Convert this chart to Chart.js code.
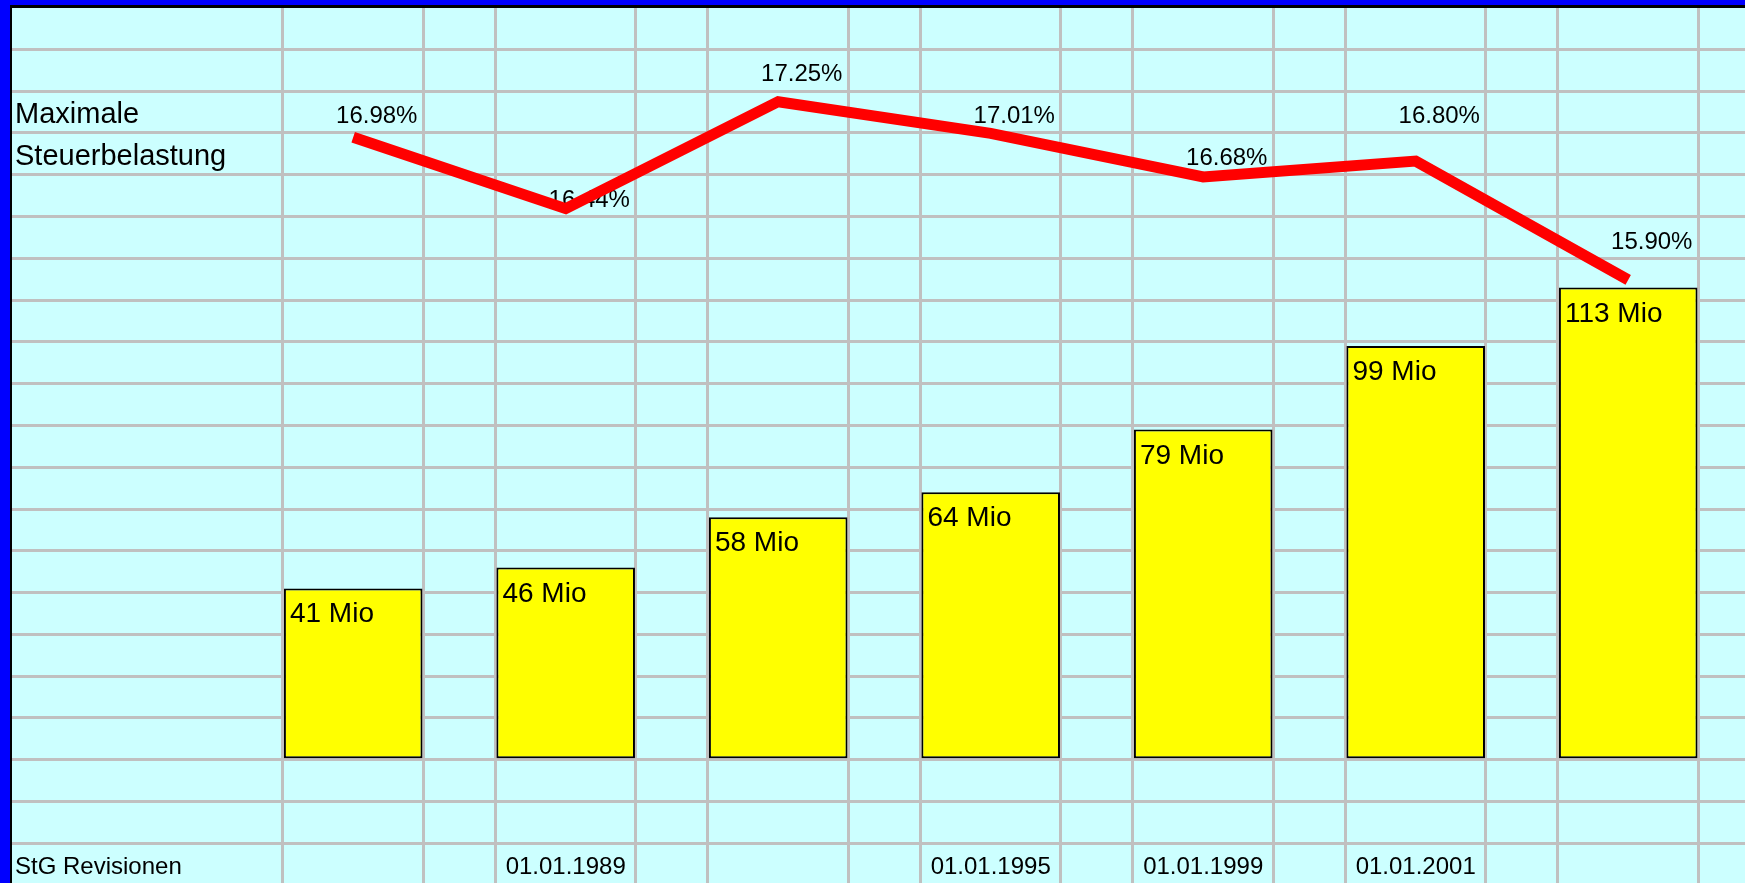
<!DOCTYPE html>
<html>
<head>
<meta charset="utf-8">
<title>StG Revisionen</title>
<script src="https://cdn.jsdelivr.net/npm/chart.js@4.4.1/dist/chart.umd.min.js"></script>
<style>
    html, body {
        margin: 0;
        padding: 0;
        background: #0000ff;
        overflow: hidden;
    }
    .sheet {
        position: absolute;
        left: 10px;
        top: 5px;
        width: 1733px;
        height: 875px;
        border-left: 2px solid #000000;
        border-top: 3px solid #000000;
        background: #ccffff;
    }
    canvas {
        display: block;
    }
</style>
</head>
<body>
<div class="sheet">
    <canvas id="chart" width="1733" height="875"></canvas>
</div>
<script>
const revisionDates = ['', '01.01.1989', '', '01.01.1995', '01.01.1999', '01.01.2001', ''];
const revenueMio = [41, 46, 58, 64, 79, 99, 113];
const maxTaxRate = [16.98, 16.44, 17.25, 17.01, 16.68, 16.80, 15.90];
const rateTitle = ['Maximale', 'Steuerbelastung'];
const revisionTitle = 'StG Revisionen';

const FONT = "'Liberation Sans', Arial, Helvetica, sans-serif";
const GRID = '#c0c0c0';
const WIDE_CELL = 0.661;   // share of the wide sheet column in one period
const ROW_MIO = 10;        // one sheet row = 10 Mio on the bar axis

// x range: sheet columns, label column on the left
const X_MIN = -1.6056;
const X_MAX = 6.5496;

function drawText(ctx, text, x, y, size, align) {
    ctx.font = `${size}px ${FONT}`;
    ctx.textAlign = align;
    ctx.textBaseline = 'alphabetic';
    ctx.fillStyle = '#000000';
    ctx.fillText(text, x, y);
}

// top pixel of the sheet row that contains the given pixel
function rowTop(yScale, pixel) {
    const value = yScale.getValueForPixel(pixel);
    return yScale.getPixelForValue(Math.floor(value / ROW_MIO) * ROW_MIO + ROW_MIO);
}

function zeroHeight(scale) {
    scale.height = 0;
}

function zeroWidth(scale) {
    scale.width = 0;
}

const cellText = {
    id: 'cellText',
    beforeDatasetsDraw(chart) {
        const { ctx, scales, chartArea } = chart;
        const line = chart.getDatasetMeta(1);
        const rowPx = scales.y.getPixelForValue(0) - scales.y.getPixelForValue(ROW_MIO);
        ctx.save();

        line.data.forEach((point, i) => {
            const top = rowTop(scales.y, point.y - 32);
            const right = scales.xGrid.getPixelForValue(i + WIDE_CELL / 2) - 6;
            drawText(ctx, maxTaxRate[i].toFixed(2) + '%', right, top + 32, 24, 'right');
        });

        const firstTop = rowTop(scales.y, line.data[0].y - 32);
        drawText(ctx, rateTitle[0], chartArea.left + 3, firstTop + 32, 29, 'left');
        drawText(ctx, rateTitle[1], chartArea.left + 3, firstTop + rowPx + 32, 29, 'left');

        const lastTop = rowTop(scales.y, chartArea.bottom - 4);
        drawText(ctx, revisionTitle, chartArea.left + 3, lastTop + 31, 24, 'left');
        revisionDates.forEach((label, i) => {
            if (label) {
                drawText(ctx, label, scales.x.getPixelForValue(i), lastTop + 31, 24, 'center');
            }
        });
        ctx.restore();
    },
    afterDatasetsDraw(chart) {
        const { ctx } = chart;
        const bars = chart.getDatasetMeta(0);
        ctx.save();
        bars.data.forEach((bar, i) => {
            drawText(ctx, `${revenueMio[i]} Mio`, bar.x - bar.width / 2 + 6, bar.y + 34, 28, 'left');
        });
        ctx.restore();
    },
};

new Chart(document.getElementById('chart'), {
    type: 'bar',
    data: {
        datasets: [
            {
                type: 'bar',
                label: 'Mio',
                data: revenueMio.map((v, i) => ({ x: i, y: v })),
                xAxisID: 'x',
                yAxisID: 'y',
                backgroundColor: '#ffff00',
                borderColor: '#000000',
                borderWidth: 2,
                borderSkipped: false,
                barPercentage: 0.652,
                categoryPercentage: 1,
                order: 1,
            },
            {
                type: 'line',
                label: 'Maximale Steuerbelastung',
                data: maxTaxRate.map((v, i) => ({ x: i, y: v })),
                xAxisID: 'x',
                yAxisID: 'y2',
                borderColor: '#ff0000',
                borderWidth: 11,
                borderJoinStyle: 'miter',
                borderCapStyle: 'butt',
                pointRadius: 0,
                tension: 0,
                order: 0,
            },
        ],
    },
    options: {
        responsive: false,
        animation: false,
        devicePixelRatio: 1,
        layout: { padding: 0 },
        plugins: {
            legend: { display: false },
            tooltip: { enabled: false },
        },
        scales: {
            x: {
                type: 'linear',
                display: false,
                offset: false,
                min: X_MIN,
                max: X_MAX,
                afterBuildTicks: (scale) => {
                    scale.ticks = revenueMio.map((v, i) => ({ value: i }));
                },
                grid: { offset: false },
            },
            xGrid: {
                type: 'linear',
                axis: 'x',
                position: 'bottom',
                offset: false,
                min: X_MIN,
                max: X_MAX,
                afterBuildTicks: (scale) => {
                    const edges = [];
                    for (let i = 0; i <= revenueMio.length; i++) {
                        edges.push(i - WIDE_CELL / 2, i + WIDE_CELL / 2);
                    }
                    scale.ticks = edges
                        .filter((v) => v > X_MIN && v < X_MAX)
                        .map((v) => ({ value: v }));
                },
                afterFit: zeroHeight,
                ticks: { display: false },
                grid: { color: GRID, lineWidth: 3, drawTicks: false, offset: false },
                border: { display: false },
            },
            y: {
                type: 'linear',
                position: 'left',
                min: -29.5,
                max: 179.9,
                afterBuildTicks: (scale) => {
                    const ticks = [];
                    for (let v = -20; v <= 170; v += ROW_MIO) {
                        ticks.push({ value: v });
                    }
                    scale.ticks = ticks;
                },
                afterFit: zeroWidth,
                ticks: { display: false },
                grid: { color: GRID, lineWidth: 3, drawTicks: false },
                border: { display: false },
            },
            y2: {
                type: 'linear',
                display: false,
                min: 11.33,
                max: 17.96,
            },
        },
    },
    plugins: [cellText],
});
</script>
</body>
</html>
